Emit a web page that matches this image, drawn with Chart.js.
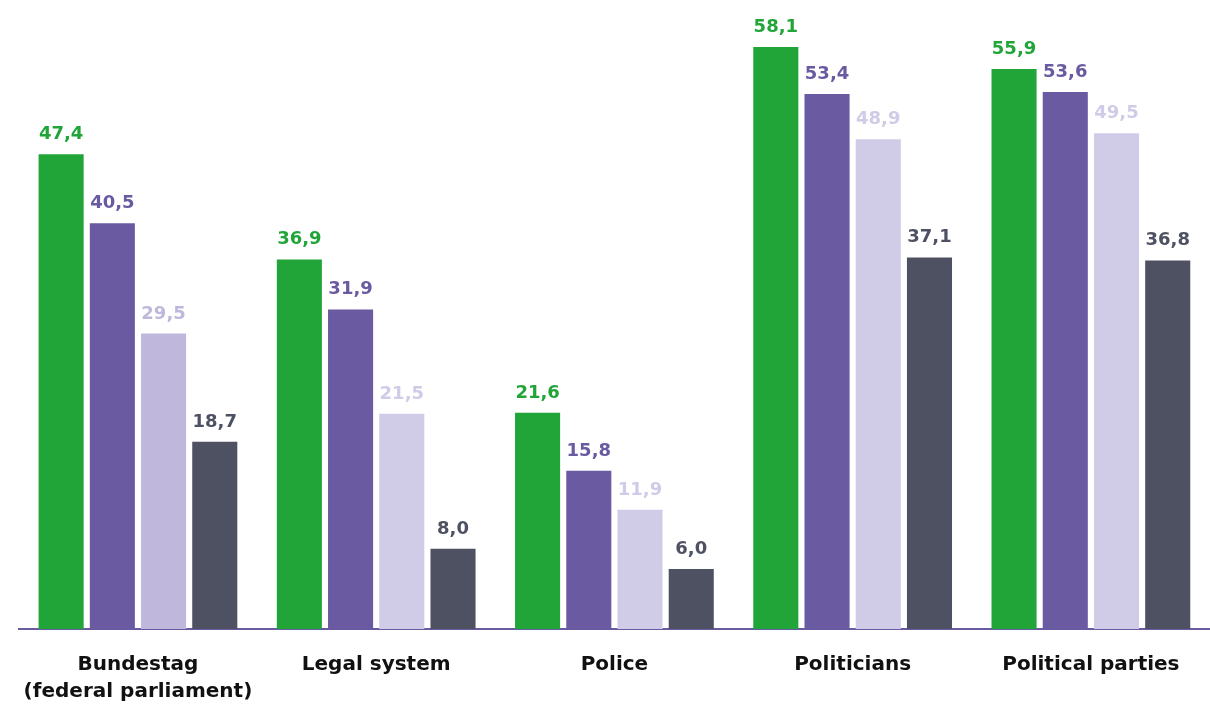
<!DOCTYPE html>
<html>
<head>
<meta charset="utf-8">
<script src="https://cdn.jsdelivr.net/npm/chart.js@4.4.0/dist/chart.umd.min.js"></script>
<style>
  body { margin: 0; background: #fff; }
  #wrap { width: 1210px; height: 704px; position: relative; }
</style>
</head>
<body>
<div id="wrap"><canvas id="myChart"></canvas></div>
<script>
// categories and values
const categories = [
  ['Bundestag', '(federal parliament)'],
  'Legal system',
  'Police',
  'Politicians',
  'Political parties'
];
const serie1 = [47.4, 36.9, 21.6, 58.1, 55.9];
const serie2 = [40.5, 31.9, 15.8, 53.4, 53.6];
const serie3 = [29.5, 21.5, 11.9, 48.9, 49.5];
const serie4 = [18.7, 8.0, 6.0, 37.1, 36.8];

const vert = '#21a539';
const violet = '#6a5aa2';
const lavande = ['#c0b8dc', '#d0cce8', '#d0cce8', '#d0cce8', '#d0cce8'];
const gris = '#4e5162';

// étiquettes de valeur au-dessus des barres
const etiquettes = {
  id: 'etiquettes',
  afterDatasetsDraw(chart) {
    const ctx = chart.ctx;
    ctx.save();
    ctx.font = 'bold 18px "DejaVu Sans"';
    ctx.textAlign = 'center';
    ctx.textBaseline = 'alphabetic';
    chart.data.datasets.forEach(function (ds, i) {
      const meta = chart.getDatasetMeta(i);
      meta.data.forEach(function (bar, j) {
        const c = Array.isArray(ds.backgroundColor) ? ds.backgroundColor[j] : ds.backgroundColor;
        ctx.fillStyle = c;
        ctx.fillText(ds.data[j].toFixed(1).replace('.', ','), bar.x, bar.y - 15);
      });
    });
    ctx.restore();
  }
};

new Chart(document.getElementById('myChart'), {
  type: 'bar',
  data: {
    labels: categories,
    datasets: [
      { data: serie1, backgroundColor: vert },
      { data: serie2, backgroundColor: violet },
      { data: serie3, backgroundColor: lavande },
      { data: serie4, backgroundColor: gris }
    ]
  },
  options: {
    responsive: true,
    maintainAspectRatio: false,
    animation: false,
    categoryPercentage: 0.86,
    barPercentage: 0.88,
    layout: { padding: { top: 28, left: 16, right: 0, bottom: -23 } },
    plugins: {
      legend: { display: false },
      tooltip: { enabled: false }
    },
    scales: {
      y: { display: false, min: 0, max: 60 },
      x: {
        grid: { display: false, drawTicks: false },
        border: { display: true, color: violet, width: 2 },
        ticks: {
          color: '#111',
          padding: 22,
          maxRotation: 0,
          font: { family: 'DejaVu Sans', weight: 'bold', size: 20, lineHeight: 1.35 }
        }
      }
    }
  },
  plugins: [etiquettes]
});
</script>
</body>
</html>
